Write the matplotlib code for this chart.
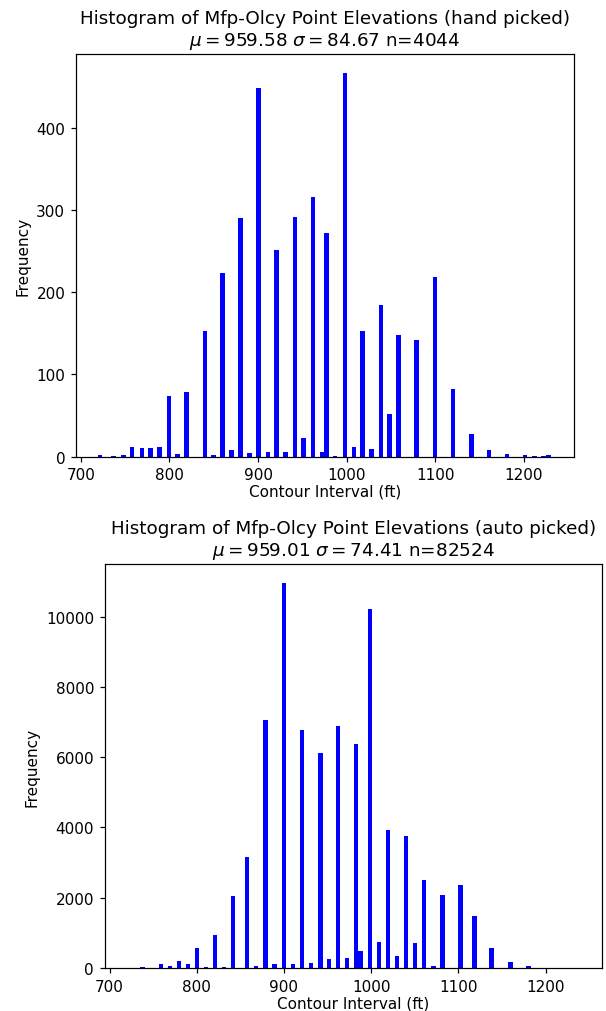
#
# elev_hist.py - histograms of contour point elevations (hand vs auto picked)
#
import matplotlib
matplotlib.use('Agg')
import matplotlib.pyplot as plt

# hand picked: bin centres (ft) and counts
hand_bins = [722, 737, 748, 758, 769, 779, 789, 799.5, 809, 819.5, 840, 850, 860,
             870, 880.5, 890.5, 900.5, 911, 921, 931, 941.5, 951.5, 962, 972, 977,
             987, 998, 1008, 1018, 1028, 1038.5, 1048.5, 1058.5, 1079, 1099.5,
             1120, 1140.5, 1160.5, 1181, 1201, 1212, 1222, 1227.5]
hand_counts = [2, 1, 2, 11, 10, 10, 12, 73, 3, 78, 153, 2, 223,
               8, 290, 4, 448, 6, 251, 6, 291, 23, 316, 5, 272,
               1, 466, 11, 152, 9, 184, 52, 148, 142, 218,
               82, 27, 8, 3, 2, 1, 1, 2]
hand_stats = (959.58, 84.67, 4044)

# auto picked: bin centres (ft) and counts
auto_bins = [738, 751.5, 759, 769.5, 779.5, 790, 800.3, 810.5, 821, 831.4, 841.8,
             857.7, 868, 878.8, 889.2, 899.8, 910.2, 920.7, 931, 941.7, 951.5,
             962, 972.4, 982.7, 987.7, 998.4, 1008.8, 1019, 1029.5, 1039.8,
             1050.1, 1060.5, 1071.3, 1081.8, 1102.6, 1118.2, 1138, 1159.8,
             1180.5, 1222.5]
auto_counts = [25, 10, 114, 66, 199, 114, 575, 28, 925, 38, 2040,
               3150, 70, 7065, 100, 10950, 114, 6780, 152, 6125, 246,
               6885, 275, 6375, 493, 10230, 739, 3915, 351, 3745,
               711, 2505, 47, 2086, 2351, 1479, 565, 180,
               47, 10]
auto_stats = (959.01, 74.41, 82524)

dpi = 110
fig = plt.figure(figsize=(606 / dpi, 1012 / dpi), dpi=dpi)

panels = [
    ('hand picked', hand_bins, hand_counts, hand_stats,
     [0.1254, 0.5479, 0.8218, 0.3977], (694.7, 1256.4)),
    ('auto picked', auto_bins, auto_counts, auto_stats,
     [0.1728, 0.0425, 0.8211, 0.3992], (694.5, 1264.9)),
]

for name, bins, counts, stats, rect, xlim in panels:
    ax = fig.add_axes(rect)
    ax.bar(bins, counts, width=5.1, color='blue')
    ax.set_xlim(*xlim)
    ax.set_xticks([700, 800, 900, 1000, 1100, 1200])
    ax.set_title('Histogram of Mfp-Olcy Point Elevations (%s)\n'
                 r'$\mu=%.2f$ $\sigma=%.2f$ n=%d' % (name, stats[0], stats[1], stats[2]))
    ax.set_xlabel('Contour Interval (ft)', labelpad=1)
    ax.set_ylabel('Frequency')

fig.savefig('out.png', dpi=dpi)
